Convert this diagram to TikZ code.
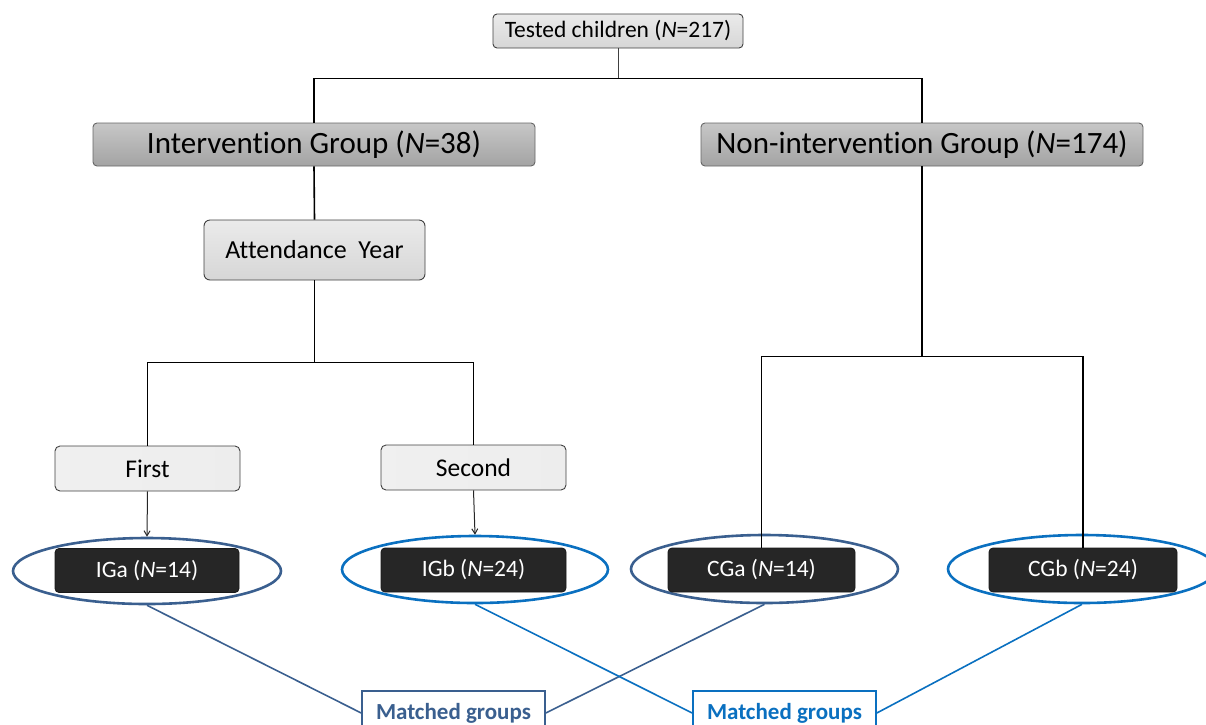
\documentclass[tikz,border=0pt]{standalone}
\usepackage{fontspec}
\setmainfont[Ligatures=NoCommon]{Carlito}
\usetikzlibrary{shapes.geometric,arrows.meta}
\definecolor{dkblue}{HTML}{3A5F8F}
\definecolor{ltblue}{HTML}{0A70C0}
\definecolor{boxedge}{HTML}{404040}
\definecolor{blackfill}{HTML}{262626}
\tikzset{
  lightbox/.style={draw=boxedge, line width=0.9pt, rounded corners=4pt, inner sep=0pt, top color=white!92!black, bottom color=white!84!black},
  grpbox/.style={draw=black!60, line width=0.9pt, rounded corners=4pt, inner sep=0pt, top color=white!78!black, bottom color=white!64!black, minimum width=442pt, minimum height=43pt, font=\fontsize{31}{35}\selectfont},
  yearbox/.style={draw=boxedge, line width=0.9pt, rounded corners=5pt, inner sep=0pt, left color=white!94!black, middle color=white!76!black, right color=white!93!black, minimum width=185pt, minimum height=45pt, font=\fontsize{25.5}{29}\selectfont},
  darkbox/.style={draw=black!90, line width=0.8pt, rounded corners=4pt, inner sep=0pt, fill=blackfill, text=white, minimum height=44pt, font=\fontsize{23.5}{27}\selectfont},
  ring/.style={ellipse, draw, line width=2.6pt, inner sep=0pt},
  matchbox/.style={draw, line width=1.6pt, fill=white, inner sep=0pt, minimum width=183pt, minimum height=44pt, font=\bfseries\fontsize{23}{27}\selectfont},
  tree/.style={line width=1.6pt, black},
  arr/.style={line width=1pt, black!85, -{Straight Barb[length=5pt,width=6pt]}},
  link/.style={line width=1.6pt}
}
\begin{document}
\begin{tikzpicture}[x=1pt,y=-1pt]
\useasboundingbox (0,0) rectangle (1206,724);
\clip (0,0) rectangle (1206,724);
% top
\node[lightbox, minimum width=250pt, minimum height=34pt, font=\fontsize{23.5}{27}\selectfont] (tested) at (618,31) {Tested children (\textit{N}=217)};
\node[grpbox] (int) at (314,144.5) {Intervention Group (\textit{N}=38)};
\node[grpbox] (non) at (922,144.5) {Non-intervention Group (\textit{N}=174)};
\node[lightbox, minimum width=221pt, minimum height=60pt, rounded corners=6pt, font=\fontsize{26}{30}\selectfont] (att) at (314.5,250) {Attendance\ \ Year};
\node[yearbox] (first) at (147.5,468.5) {First};
\node[yearbox] (second) at (473.5,467.5) {Second};
% ellipses
\node[ring, draw=dkblue, minimum width=268pt, minimum height=66pt] (eiga) at (147,571) {};
\node[ring, draw=ltblue, minimum width=266pt, minimum height=67pt] (eigb) at (475,569.5) {};
\node[ring, draw=dkblue, minimum width=267pt, minimum height=68pt] (ecga) at (764.5,569) {};
\node[ring, draw=ltblue, minimum width=268pt, minimum height=68pt] (ecgb) at (1082,569) {};
% dark boxes
\node[darkbox, minimum width=184pt] (iga) at (147,570.5) {IGa (\textit{N}=14)};
\node[darkbox, minimum width=185pt] (igb) at (473.5,570) {IGb (\textit{N}=24)};
\node[darkbox, minimum width=187pt] (cga) at (761.5,570) {CGa (\textit{N}=14)};
\node[darkbox, minimum width=188pt] (cgb) at (1083,570) {CGb (\textit{N}=24)};
% matched
\node[matchbox, draw=dkblue, text=dkblue] (mleft) at (453.5,713) {Matched groups};
\node[matchbox, draw=ltblue, text=ltblue] (mright) at (784.5,713) {Matched groups};
% tree
\draw[line width=1pt, black!75] (tested.south) -- ++(0,30) coordinate (j1);
\draw[tree] (int.north) |- (j1) -| (non.north);
\draw[tree] (int.south) -- (att.north);
\draw[tree] (att.south) -- ++(0,82) coordinate (j2);
\draw[tree] (first.north) |- (j2) -| (second.north);
\draw[tree] (non.south) -- ++(0,190) coordinate (j3);
\draw[tree] (cga.north) |- (j3) -| (cgb.north);
\draw[arr] (first.south) -- (eiga.north);
\draw[arr] (second.south) -- (eigb.north);
% links
\draw[link, dkblue] (eiga.south) -- (mleft.west);
\draw[link, dkblue] (ecga.south) -- (mleft.east);
\draw[link, ltblue] (eigb.south) -- (mright.west);
\draw[link, ltblue] (ecgb.south) -- (mright.east);
\end{tikzpicture}
\end{document}
